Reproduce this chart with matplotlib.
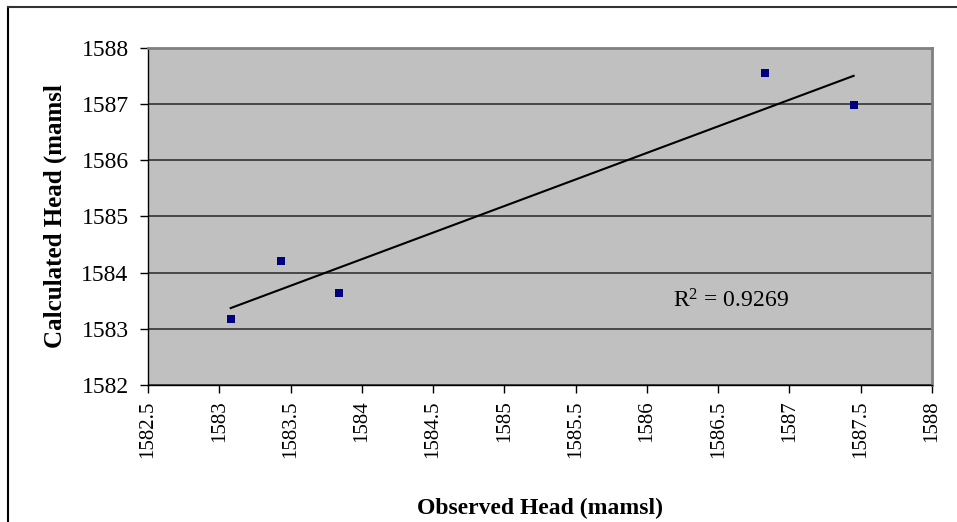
import numpy as np
import matplotlib.pyplot as plt
from matplotlib.lines import Line2D

# observed vs calculated heads (mamsl)
observed = [1583.08, 1583.43, 1583.84, 1586.83, 1587.45]
calculated = [1583.18, 1584.21, 1583.64, 1587.56, 1586.99]
r2_text = '$\\mathregular{R^2}$ = 0.9269'

x_ticks = [1582.5, 1583, 1583.5, 1584, 1584.5, 1585, 1585.5, 1586,
           1586.5, 1587, 1587.5, 1588]
y_ticks = [1582, 1583, 1584, 1585, 1586, 1587, 1588]

plt.rcParams['font.family'] = ['Liberation Serif', 'DejaVu Serif']
plt.rcParams['mathtext.fontset'] = 'custom'
plt.rcParams['mathtext.rm'] = 'Liberation Serif'

fig = plt.figure(figsize=(9.57, 5.22), dpi=100)
ax = fig.add_axes([0.1547, 0.2625, 0.8192, 0.6456])
ax.set_facecolor('#C0C0C0')

# outer chart frame (only top and left edges are visible)
fig.add_artist(Line2D([8 / 957, 8 / 957], [0, 1 - 7 / 522],
                      transform=fig.transFigure, color='black', lw=1.5))
fig.add_artist(Line2D([8 / 957, 1], [1 - 7 / 522, 1 - 7 / 522],
                      transform=fig.transFigure, color='#333333', lw=1.5))

ax.scatter(observed, calculated, marker='s', s=30, color='#000080',
           zorder=5, linewidths=0)

# linear trend line over the data range
slope, intercept = np.polyfit(observed, calculated, 1)
xs = np.array([min(observed), max(observed)])
ax.plot(xs, slope * xs + intercept, color='black', lw=1.5, zorder=4)

ax.text(1586.18, 1583.5, r2_text, fontsize=17, ha='left', va='center')

ax.set_xlim(x_ticks[0], x_ticks[-1])
ax.set_ylim(y_ticks[0], y_ticks[-1])
ax.set_xticks(x_ticks)
ax.set_yticks(y_ticks)
ax.set_xticklabels([f'{v:g}' for v in x_ticks], rotation=90, fontsize=15)
ax.set_yticklabels([str(v) for v in y_ticks], fontsize=17)
ax.tick_params(direction='out', length=6, width=1, color='black', pad=5)
ax.tick_params(axis='y', pad=8)

ax.yaxis.grid(True, color='#333333', lw=1.2)
ax.set_axisbelow(True)

for side in ('top', 'right'):
    ax.spines[side].set_color('#808080')
    ax.spines[side].set_linewidth(2)
for side in ('left', 'bottom'):
    ax.spines[side].set_color('black')
    ax.spines[side].set_linewidth(1)

ax.set_xlabel('Observed Head (mamsl)', fontsize=17, fontweight='bold',
              labelpad=29)
ax.set_ylabel('Calculated Head (mamsl', fontsize=18, fontweight='bold',
              labelpad=10)

fig.savefig('out.png', dpi=100)
